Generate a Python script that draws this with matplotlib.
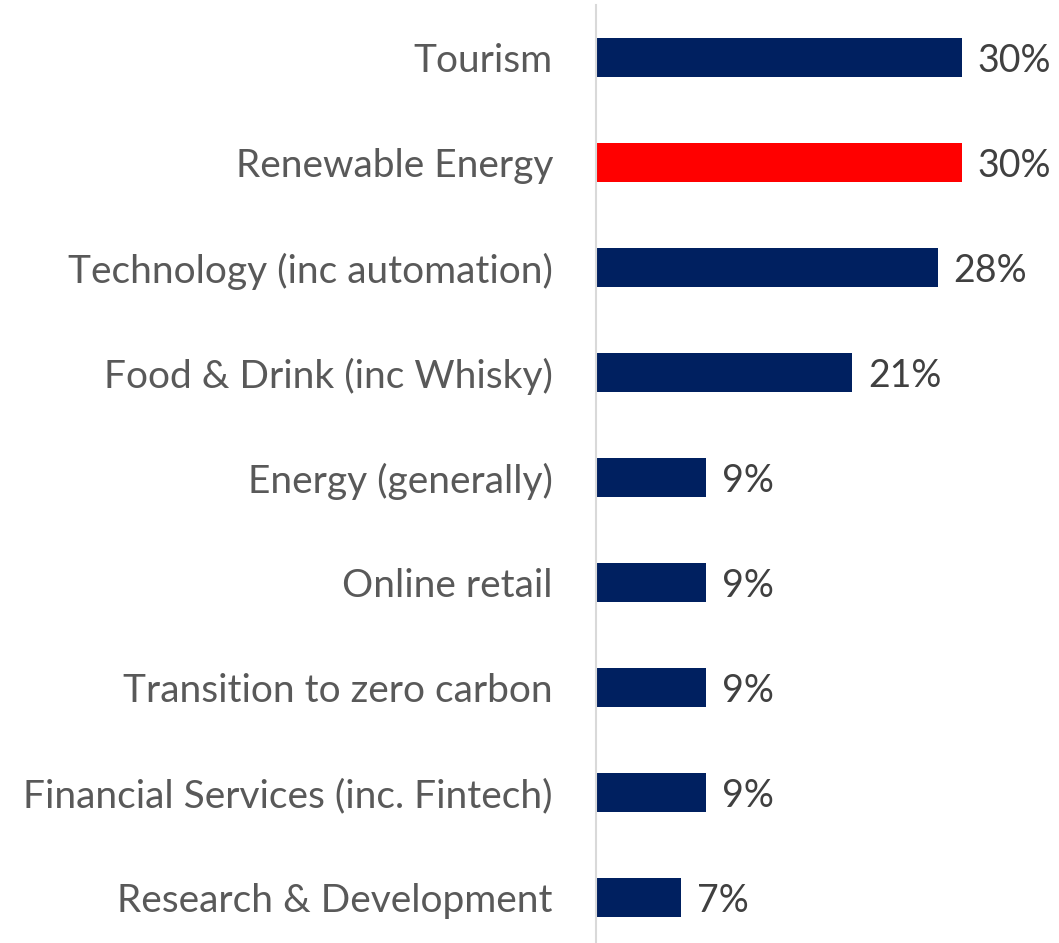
import matplotlib.pyplot as plt

sectors = ["Tourism", "Renewable Energy", "Technology (inc automation)",
           "Food & Drink (inc Whisky)", "Energy (generally)", "Online retail",
           "Transition to zero carbon", "Financial Services (inc. Fintech)",
           "Research & Development"]
shares = [30, 30, 28, 21, 9, 9, 9, 9, 7]
bar_colors = ["#002060", "#FF0000", "#002060", "#002060", "#002060",
              "#002060", "#002060", "#002060", "#002060"]

plt.rcParams['font.family'] = ['Lato', 'DejaVu Sans']

fig = plt.figure(figsize=(10.59, 9.43), dpi=100)
ax = fig.add_axes([596 / 1059, 0, 1 - 596 / 1059, 1 - 5 / 943])

pos = list(range(len(sectors)))
ax.barh(pos, shares, height=0.37, color=bar_colors)
ax.set_xlim(0, 463 / 12.2)
ax.set_ylim(8.43, -0.5)

for p, v in zip(pos, shares):
    ax.text(v + 1.3, p, f"{v}%", va="center_baseline", ha="left",
            fontsize=27, color="#404040")

ax.set_yticks(pos)
ax.set_yticklabels(sectors, fontsize=28, color="#595959")
ax.tick_params(axis="y", length=0, pad=31)
ax.set_xticks([])
for side in ["top", "right", "bottom"]:
    ax.spines[side].set_visible(False)
ax.spines["left"].set_color("#D9D9D9")
ax.spines["left"].set_linewidth(1.5)

fig.savefig("out.png", dpi=100)
